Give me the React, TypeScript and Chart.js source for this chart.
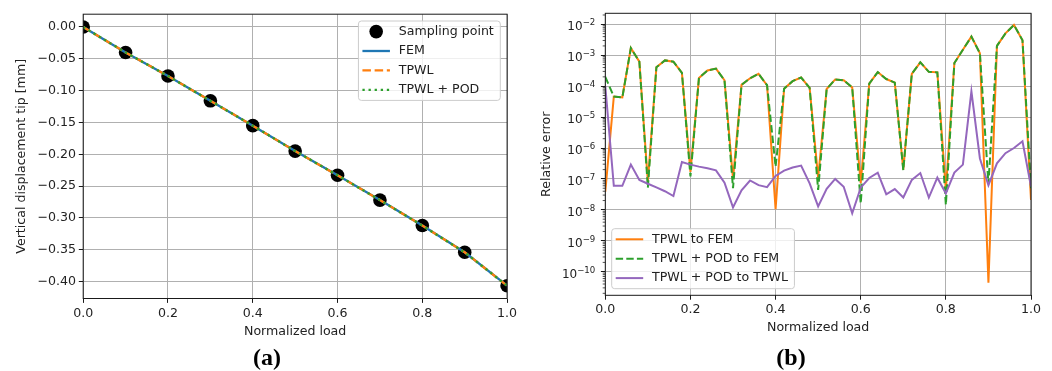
import React, { useEffect, useRef } from "react";
import { Chart, registerables } from "chart.js";

Chart.register(...registerables);

const FONT_FAMILY = "'DejaVu Sans', 'Liberation Sans', sans-serif";
const FS = 12.6;
const TEXT = "#222222";
const GRID = "#b0b0b0";
const SPINE = "#1a1a1a";
const C_BLUE = "#1f77b4";
const C_ORANGE = "#ff7f0e";
const C_GREEN = "#2ca02c";
const C_PURPLE = "#9467bd";

// ---------- Panel (a): tip displacement ----------
const sampleLoad = [0.0, 0.1, 0.2, 0.3, 0.4, 0.5, 0.6, 0.7, 0.8, 0.9, 1.0];
const sampleDisp = [0.0, -0.04, -0.077, -0.116, -0.155, -0.195, -0.233, -0.272, -0.312, -0.354, -0.4065];
const femDisp = [0.0, -0.04, -0.077, -0.116, -0.155, -0.195, -0.233, -0.272, -0.312, -0.354, -0.4065];
const tpwlDisp = [0.0, -0.04, -0.077, -0.116, -0.155, -0.195, -0.233, -0.272, -0.312, -0.354, -0.4065];
const podDisp = [0.0, -0.04, -0.077, -0.116, -0.155, -0.195, -0.233, -0.272, -0.312, -0.354, -0.4065];
const dispTicks = [0.0, -0.05, -0.1, -0.15, -0.2, -0.25, -0.3, -0.35, -0.4];
const loadTicks = [0.0, 0.2, 0.4, 0.6, 0.8, 1.0];
const dispMin = -0.4266;
const dispMax = 0.0201;

// ---------- Panel (b): relative errors ----------
const errLoad = [
  0.0, 0.02, 0.04, 0.06, 0.08, 0.1, 0.12, 0.14, 0.16, 0.18,
  0.2, 0.22, 0.24, 0.26, 0.28, 0.3, 0.32, 0.34, 0.36, 0.38,
  0.4, 0.42, 0.44, 0.46, 0.48, 0.5, 0.52, 0.54, 0.56, 0.58,
  0.6, 0.62, 0.64, 0.66, 0.68, 0.7, 0.72, 0.74, 0.76, 0.78,
  0.8, 0.82, 0.84, 0.86, 0.88, 0.9, 0.92, 0.94, 0.96, 0.98, 1.0,
];
const errTpwlFem = [
  3.9e-8, 4.6e-5, 4.3e-5, 1.7e-3, 6.2e-4, 8.1e-8, 4.1e-4, 6.8e-4, 6.2e-4, 2.7e-4,
  1.7e-7, 1.85e-4, 3.2e-4, 3.7e-4, 1.55e-4, 1.0e-7, 1.1e-4, 1.8e-4, 2.5e-4, 1.07e-4,
  1.05e-8, 8.3e-5, 1.45e-4, 1.9e-4, 8.8e-5, 1.1e-7, 8.1e-5, 1.65e-4, 1.55e-4, 9.1e-5,
  7.3e-8, 1.2e-4, 2.85e-4, 1.7e-4, 1.3e-4, 2.0e-7, 2.5e-4, 5.9e-4, 2.9e-4, 2.8e-4,
  4.4e-8, 5.6e-4, 1.5e-3, 4.0e-3, 1.15e-3, 4.4e-11, 2.0e-3, 5.1e-3, 9.5e-3, 3.05e-3, 2.1e-8,
];
const errPodFem = [
  2.0e-4, 4.6e-5, 4.3e-5, 1.7e-3, 6.2e-4, 5.2e-8, 4.1e-4, 6.8e-4, 6.2e-4, 2.7e-4,
  1.2e-7, 1.85e-4, 3.2e-4, 3.7e-4, 1.55e-4, 5.0e-8, 1.1e-4, 1.8e-4, 2.5e-4, 1.07e-4,
  2.5e-7, 8.3e-5, 1.45e-4, 1.9e-4, 8.8e-5, 4.4e-8, 8.1e-5, 1.65e-4, 1.55e-4, 9.1e-5,
  1.6e-8, 1.2e-4, 2.85e-4, 1.7e-4, 1.3e-4, 1.9e-7, 2.5e-4, 5.9e-4, 2.9e-4, 2.8e-4,
  1.45e-8, 5.6e-4, 1.5e-3, 4.0e-3, 1.15e-3, 7.0e-8, 2.0e-3, 5.1e-3, 9.5e-3, 3.05e-3, 5.0e-8,
];
const errPodTpwl = [
  1.0e-4, 6.0e-8, 6.0e-8, 2.9e-7, 9.3e-8, 7.0e-8, 5.3e-8, 4.0e-8, 2.8e-8, 3.5e-7,
  2.9e-7, 2.5e-7, 2.2e-7, 1.9e-7, 7.6e-8, 1.2e-8, 4.3e-8, 8.9e-8, 6.3e-8, 5.4e-8,
  1.25e-7, 1.85e-7, 2.35e-7, 2.7e-7, 7.2e-8, 1.3e-8, 4.8e-8, 1.0e-7, 5.6e-8, 7.7e-9,
  5.2e-8, 1.07e-7, 1.6e-7, 3.2e-8, 4.7e-8, 2.5e-8, 9.3e-8, 1.55e-7, 2.5e-8, 1.1e-7,
  3.4e-8, 1.6e-7, 2.9e-7, 6.8e-5, 4.6e-7, 6.3e-8, 3.2e-7, 6.8e-7, 1.0e-6, 1.65e-6, 5.7e-8,
];
const errTickExps = [-2, -3, -4, -5, -6, -7, -8, -9, -10];
const errMin = Math.pow(10, -10.763);
const errMax = Math.pow(10, -1.644);

// ---------- helpers ----------
const fmtSigned = (v: number, d: number) => {
  const s = Math.abs(v) < 1e-12 ? (0).toFixed(d) : v.toFixed(d);
  return s.replace("-", "\u2212");
};
const font = { family: FONT_FAMILY, size: FS };

type LegendEntry = { label: string; color: string; kind: "marker" | "line"; dash?: number[]; width?: number };

function makeDecor(
  id: string,
  entries: LegendEntry[],
  anchor: "topright" | "bottomleft",
  logAxis: boolean
) {
  return {
    id,
    afterDatasetsDraw(chart: any) {
      const { ctx, chartArea: a } = chart;
      ctx.save();
      if (logAxis) {
        const ys = chart.scales.y;
        // minor ticks
        ctx.strokeStyle = SPINE;
        ctx.lineWidth = 0.75;
        for (let e = -12; e <= 0; e++) {
          for (let k = 2; k <= 9; k++) {
            const v = k * Math.pow(10, e);
            if (v < ys.min || v > ys.max) continue;
            const py = ys.getPixelForValue(v);
            ctx.beginPath();
            ctx.moveTo(a.left - 2.6, py);
            ctx.lineTo(a.left, py);
            ctx.stroke();
          }
        }
        // major tick labels: 10 with superscript exponent
        ctx.fillStyle = TEXT;
        ctx.textAlign = "left";
        ctx.textBaseline = "alphabetic";
        const baseFont = `12px ${FONT_FAMILY}`;
        const expFont = `8.6px ${FONT_FAMILY}`;
        errTickExps.forEach((e) => {
          const py = ys.getPixelForValue(Math.pow(10, e));
          const expStr = String(e).replace("-", "\u2212");
          ctx.font = expFont;
          const ew = ctx.measureText(expStr).width;
          ctx.font = baseFont;
          const bw = ctx.measureText("10").width;
          const right = a.left - 10;
          ctx.fillText("10", right - ew - bw, py + 6);
          ctx.font = expFont;
          ctx.fillText(expStr, right - ew, py + 0.8);
        });
      }
      // spines
      ctx.strokeStyle = SPINE;
      ctx.lineWidth = 1;
      ctx.setLineDash([]);
      ctx.strokeRect(a.left, a.top, a.right - a.left, a.bottom - a.top);

      // legend
      const pad = 10.6;
      const step = 19.4;
      const handleStart = 4;
      const handleLen = 27.5;
      const textOff = 40.3;
      ctx.font = `${FS}px ${FONT_FAMILY}`;
      const textW = Math.max(...entries.map((e) => ctx.measureText(e.label).width));
      const w = textOff + textW + 6.5;
      const h = 2 * pad + (entries.length - 1) * step;
      let bx: number, by: number;
      if (anchor === "topright") {
        bx = a.right - 6.8 - w;
        by = a.top + 6.8;
      } else {
        bx = a.left + 6.4;
        by = a.bottom - 6.6 - h;
      }
      const r = 3;
      ctx.beginPath();
      ctx.moveTo(bx + r, by);
      ctx.lineTo(bx + w - r, by);
      ctx.arcTo(bx + w, by, bx + w, by + r, r);
      ctx.lineTo(bx + w, by + h - r);
      ctx.arcTo(bx + w, by + h, bx + w - r, by + h, r);
      ctx.lineTo(bx + r, by + h);
      ctx.arcTo(bx, by + h, bx, by + h - r, r);
      ctx.lineTo(bx, by + r);
      ctx.arcTo(bx, by, bx + r, by, r);
      ctx.closePath();
      ctx.fillStyle = "rgba(255,255,255,0.8)";
      ctx.fill();
      ctx.strokeStyle = "#cccccc";
      ctx.lineWidth = 1;
      ctx.stroke();

      entries.forEach((en, i) => {
        const cy = by + pad + i * step;
        if (en.kind === "marker") {
          ctx.beginPath();
          ctx.fillStyle = en.color;
          ctx.arc(bx + handleStart + handleLen / 2, cy, 6.8, 0, Math.PI * 2);
          ctx.fill();
        } else {
          ctx.beginPath();
          ctx.strokeStyle = en.color;
          ctx.lineWidth = en.width || 2;
          ctx.lineCap = "butt";
          ctx.setLineDash(en.dash || []);
          ctx.moveTo(bx + handleStart, cy);
          ctx.lineTo(bx + handleStart + handleLen, cy);
          ctx.stroke();
          ctx.setLineDash([]);
        }
        ctx.fillStyle = TEXT;
        ctx.font = `${FS}px ${FONT_FAMILY}`;
        ctx.textAlign = "left";
        ctx.textBaseline = "middle";
        ctx.fillText(en.label, bx + textOff, cy);
      });
      ctx.restore();
    },
  };
}

const CANVAS_H = 345;
const LW_A = 2.3;
const LW_B = 2.0;
const DASH_A = [8.5, 3.7];
const DOT_A = [2.3, 3.8];
const DASH_B = [7.4, 3.2];

function gridOpts() {
  return { color: GRID, lineWidth: 1, tickColor: SPINE, tickLength: 4.4, tickWidth: 1 };
}

export default function App() {
  const refA = useRef<HTMLCanvasElement | null>(null);
  const refB = useRef<HTMLCanvasElement | null>(null);

  useEffect(() => {
    const lineDs = (
      label: string,
      ys: number[],
      xs: number[],
      color: string,
      order: number,
      width: number,
      dash?: number[]
    ) => ({
      label,
      data: xs.map((x, i) => ({ x, y: ys[i] })),
      borderColor: color,
      backgroundColor: color,
      borderWidth: width,
      borderDash: dash || [],
      pointRadius: 0,
      pointHoverRadius: 0,
      tension: 0,
      fill: false,
      order,
      clip: 0,
    });

    const chartA = new Chart(refA.current as HTMLCanvasElement, {
      type: "line",
      data: {
        datasets: [
          {
            label: "Sampling point",
            data: sampleLoad.map((x, i) => ({ x, y: sampleDisp[i] })),
            showLine: false,
            pointRadius: 6.8,
            pointHoverRadius: 6.8,
            pointBackgroundColor: "#000",
            pointBorderColor: "#000",
            pointBorderWidth: 0,
            borderColor: "#000",
            order: 4,
            clip: 0,
          } as any,
          lineDs("FEM", femDisp, sampleLoad, C_BLUE, 3, LW_A),
          lineDs("TPWL", tpwlDisp, sampleLoad, C_ORANGE, 2, LW_A, DASH_A),
          lineDs("TPWL + POD", podDisp, sampleLoad, C_GREEN, 1, LW_A, DOT_A),
        ],
      },
      options: {
        responsive: false,
        animation: false,
        devicePixelRatio: 1,
        events: [],
        layout: { padding: { top: 14.2, right: 22.9, left: 0, bottom: 0 } },
        plugins: { legend: { display: false }, tooltip: { enabled: false } },
        scales: {
          x: {
            type: "linear",
            min: 0,
            max: 1,
            bounds: "data",
            afterBuildTicks: (s: any) => {
              s.ticks = loadTicks.map((v) => ({ value: v }));
            },
            afterFit: (s: any) => {
              s.height = CANVAS_H - 298.5;
            },
            ticks: {
              callback: (v: any) => Number(v).toFixed(1),
              font,
              color: TEXT,
              padding: 3.5,
              autoSkip: false,
              maxRotation: 0,
            },
            grid: gridOpts(),
            border: { display: false },
            title: { display: true, text: "Normalized load", font, color: TEXT, padding: { top: 0, bottom: 5.4 } },
          },
          y: {
            type: "linear",
            min: dispMin,
            max: dispMax,
            bounds: "data",
            afterBuildTicks: (s: any) => {
              s.ticks = dispTicks.map((v) => ({ value: v }));
            },
            afterFit: (s: any) => {
              s.width = 83.2;
            },
            ticks: {
              callback: (v: any) => fmtSigned(Number(v), 2),
              font,
              color: TEXT,
              padding: 2.8,
              autoSkip: false,
            },
            grid: gridOpts(),
            border: { display: false },
            title: {
              display: true,
              text: "Vertical displacement tip [mm]",
              font,
              color: TEXT,
              padding: { top: 14.4, bottom: 0 },
            },
          },
        },
      } as any,
      plugins: [
        makeDecor(
          "decorA",
          [
            { label: "Sampling point", color: "#000", kind: "marker" },
            { label: "FEM", color: C_BLUE, kind: "line", width: LW_A },
            { label: "TPWL", color: C_ORANGE, kind: "line", dash: DASH_A, width: LW_A },
            { label: "TPWL + POD", color: C_GREEN, kind: "line", dash: DOT_A, width: LW_A },
          ],
          "topright",
          false
        ),
      ],
    });

    const chartB = new Chart(refB.current as HTMLCanvasElement, {
      type: "line",
      data: {
        datasets: [
          lineDs("TPWL to FEM", errTpwlFem, errLoad, C_ORANGE, 3, LW_B),
          lineDs("TPWL + POD to FEM", errPodFem, errLoad, C_GREEN, 2, LW_B, DASH_B),
          lineDs("TPWL + POD to TPWL", errPodTpwl, errLoad, C_PURPLE, 1, LW_B),
        ],
      },
      options: {
        responsive: false,
        animation: false,
        devicePixelRatio: 1,
        events: [],
        layout: { padding: { top: 13.3, right: 21, left: 0, bottom: 0 } },
        plugins: { legend: { display: false }, tooltip: { enabled: false } },
        scales: {
          x: {
            type: "linear",
            min: 0,
            max: 1,
            bounds: "data",
            afterBuildTicks: (s: any) => {
              s.ticks = loadTicks.map((v) => ({ value: v }));
            },
            afterFit: (s: any) => {
              s.height = CANVAS_H - 295.3;
            },
            ticks: {
              callback: (v: any) => Number(v).toFixed(1),
              font,
              color: TEXT,
              padding: 2.7,
              autoSkip: false,
              maxRotation: 0,
            },
            grid: gridOpts(),
            border: { display: false },
            title: { display: true, text: "Normalized load", font, color: TEXT, padding: { top: 0, bottom: 9.4 } },
          },
          y: {
            type: "logarithmic",
            min: errMin,
            max: errMax,
            bounds: "data",
            afterBuildTicks: (s: any) => {
              s.ticks = errTickExps.map((e) => ({ value: Math.pow(10, e) }));
            },
            afterFit: (s: any) => {
              s.width = 75.3;
            },
            ticks: { display: false, autoSkip: false },
            grid: gridOpts(),
            border: { display: false },
            title: { display: true, text: "Relative error", font, color: TEXT, padding: { top: 9.1, bottom: 0 } },
          },
        },
      } as any,
      plugins: [
        makeDecor(
          "decorB",
          [
            { label: "TPWL to FEM", color: C_ORANGE, kind: "line", width: LW_B },
            { label: "TPWL + POD to FEM", color: C_GREEN, kind: "line", dash: DASH_B, width: LW_B },
            { label: "TPWL + POD to TPWL", color: C_PURPLE, kind: "line", width: LW_B },
          ],
          "bottomleft",
          true
        ),
      ],
    });

    return () => {
      chartA.destroy();
      chartB.destroy();
    };
  }, []);

  const captionStyle: React.CSSProperties = {
    position: "absolute",
    top: 345,
    width: 100,
    textAlign: "center",
    fontFamily: "'Liberation Serif', 'DejaVu Serif', serif",
    fontWeight: "bold",
    fontSize: 24,
    lineHeight: "24px",
    color: "#000",
  };

  return (
    <div style={{ position: "absolute", left: 0, top: 0, width: 1052, height: 371, background: "#fff", overflow: "hidden" }}>
      <canvas
        ref={refA}
        width={530}
        height={CANVAS_H}
        style={{ position: "absolute", left: 0, top: 0, width: 530, height: CANVAS_H }}
      />
      <canvas
        ref={refB}
        width={522}
        height={CANVAS_H}
        style={{ position: "absolute", left: 530, top: 0, width: 522, height: CANVAS_H }}
      />
      <div style={{ ...captionStyle, left: 267 - 50 }}>(a)</div>
      <div style={{ ...captionStyle, left: 791 - 50 }}>(b)</div>
    </div>
  );
}
